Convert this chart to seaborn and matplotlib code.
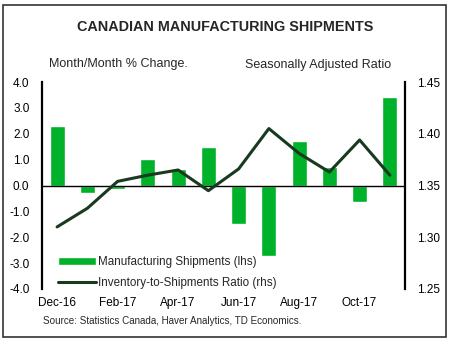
import numpy as np
import pandas as pd
import matplotlib
matplotlib.use("Agg")
import matplotlib.pyplot as plt
from matplotlib.patches import Rectangle
import seaborn as sns

months = ["Dec-16", "Jan-17", "Feb-17", "Mar-17", "Apr-17", "May-17",
          "Jun-17", "Jul-17", "Aug-17", "Sep-17", "Oct-17", "Nov-17"]
shipments = [2.3, -0.3, -0.12, 1.02, 0.65, 1.5, -1.5, -2.73, 1.72, 0.7, -0.62, 3.42]
ratio = [1.310, 1.328, 1.354, 1.360, 1.365, 1.345, 1.366, 1.405, 1.381, 1.363, 1.394, 1.360]
left_ticks = [4.0, 3.0, 2.0, 1.0, 0.0, -1.0, -2.0, -3.0, -4.0]
right_ticks = [1.45, 1.40, 1.35, 1.30, 1.25]

sns.set_style("white")
plt.rcParams["font.family"] = ["Liberation Sans", "DejaVu Sans"]

bar_color = "#00B22A"
line_color = "#173A20"

df = pd.DataFrame({"month": months, "shipments": shipments, "ratio": ratio,
                   "pos": np.arange(len(months))})

fig = plt.figure(figsize=(4.5, 3.41), dpi=100)
ax = fig.add_axes([0.0933, 0.1525, 0.8067, 0.607])

sns.barplot(data=df, x="month", y="shipments", color=bar_color, width=0.5,
            saturation=1, ax=ax, label="Manufacturing Shipments (lhs)")
ax.set_ylim(-4, 4)
ax.set_xlim(-0.5, len(months) - 0.5)
ax.set_yticks(left_ticks)
ax.set_yticklabels([f"{v:.1f}" for v in left_ticks])
ax.axhline(0, color="black", lw=1.0, zorder=1)
ax.set_xticks(range(0, len(months), 2))
ax.set_xticklabels(months[::2])
ax.set_xlabel("")
ax.set_ylabel("")
ax.tick_params(axis="both", length=0, labelsize=8.5, colors="black")
ax.tick_params(axis="x", pad=6)
ax.tick_params(axis="y", pad=9)
for s in ["top", "bottom"]:
    ax.spines[s].set_visible(False)
ax.spines["left"].set_linewidth(1.6)
ax.spines["left"].set_color("black")
ax.spines["right"].set_visible(False)

ax2 = ax.twinx()
sns.lineplot(data=df, x="pos", y="ratio", color=line_color, lw=2.2, ax=ax2,
             label="Inventory-to-Shipments Ratio (rhs)")
ax2.set_ylim(1.25, 1.45)
ax2.set_xlim(-0.5, len(months) - 0.5)
ax2.set_yticks(right_ticks)
ax2.set_yticklabels([f"{v:.2f}" for v in right_ticks])
ax2.set_ylabel("")
ax2.tick_params(axis="y", length=0, labelsize=8.5, colors="black", pad=9)
for s in ["top", "bottom", "left"]:
    ax2.spines[s].set_visible(False)
ax2.spines["right"].set_linewidth(1.6)
ax2.spines["right"].set_color("black")
if ax2.get_legend():
    ax2.get_legend().remove()
if ax.get_legend():
    ax.get_legend().remove()

h1, l1 = ax.get_legend_handles_labels()
h2, l2 = ax2.get_legend_handles_labels()
leg = ax2.legend(h1 + h2, l1 + l2, loc="lower left", bbox_to_anchor=(0.015, -0.05),
                 frameon=False, fontsize=8.4, handlelength=3.3, handletextpad=0.1,
                 labelspacing=0.75, handleheight=0.6)

fig.text(0.5, 0.92, "CANADIAN MANUFACTURING SHIPMENTS", ha="center", va="center",
         fontsize=10.4, fontweight="bold")
fig.text(0.263, 0.812, "Month/Month % Change.", ha="center", va="center", fontsize=9)
fig.text(0.707, 0.808, "Seasonally Adjusted Ratio", ha="center", va="center", fontsize=9)
fig.text(0.095, 0.058, "Source: Statistics Canada, Haver Analytics, TD Economics.",
         ha="left", va="center", fontsize=7.1)

fig.patches.append(Rectangle((0.006, 0.013), 0.985, 0.972, transform=fig.transFigure,
                             fill=False, edgecolor="#333333", lw=1.2))

fig.savefig("out.png", dpi=100)
